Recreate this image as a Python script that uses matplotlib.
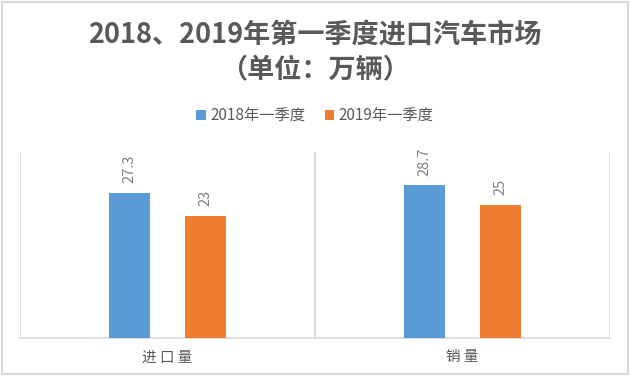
import matplotlib
matplotlib.use("Agg")
import matplotlib.pyplot as plt
from matplotlib.patches import Rectangle
import numpy as np

plt.rcParams['font.family'] = ['Noto Sans CJK SC', 'DejaVu Sans']

categories = ['进 口 量', '销 量']
series_names = ['2018年一季度', '2019年一季度']
values_2018 = [27.3, 28.7]
values_2019 = [23, 25]
colors = ['#5B9BD5', '#ED7D31']
title_line1 = '2018、2019年第一季度进口汽车市场'
title_line2 = '（单位：万辆）'

W, H = 630, 379
fig = plt.figure(figsize=(W / 100, H / 100), dpi=100)
fig.patch.set_facecolor('white')

# outer border
fig.add_artist(Rectangle((1.5 / W, 1 - 373.5 / H), 626.5 / W, 371.5 / H,
                         transform=fig.transFigure, fill=False,
                         edgecolor='#D9D9D9', linewidth=1.5))

ax = fig.add_axes([20 / W, (H - 338) / H, 590 / W, 186 / H])
x = np.arange(len(categories))
w = 0.136
off = 0.129
b1 = ax.bar(x - off, values_2018, w, color=colors[0], label=series_names[0], zorder=3)
b2 = ax.bar(x + off, values_2019, w, color=colors[1], label=series_names[1], zorder=3)

for bars, vals in ((b1, values_2018), (b2, values_2019)):
    for rect, v in zip(bars, vals):
        ax.annotate(f'{v:g}', (rect.get_x() + rect.get_width() / 2, rect.get_height()),
                    xytext=(0, 7), textcoords='offset points', rotation=90,
                    ha='center', va='bottom', fontsize=10.5, color='#808080')

ax.set_xlim(-0.5, len(categories) - 0.5)
ax.set_ylim(0, 35)
for xv in np.arange(-0.5, len(categories), 1.0):
    ax.axvline(xv, color='#D9D9D9', linewidth=1.2, zorder=1)
ax.set_yticks([])
ax.set_xticks(x)
ax.set_xticklabels(categories, fontsize=10.5, color='#595959')
ax.tick_params(axis='x', length=0, pad=9)
for s in ('top', 'left', 'right'):
    ax.spines[s].set_visible(False)
ax.spines['bottom'].set_color('#D9D9D9')
ax.spines['bottom'].set_linewidth(1.2)

fig.text(0.5, 1 - 35 / H, title_line1, ha='center', va='center', fontsize=19.5,
         fontweight='bold', color='#595959')
fig.text(0.5, 1 - 70 / H, title_line2, ha='center', va='center', fontsize=19.5,
         fontweight='bold', color='#595959')

leg = fig.legend(handles=[b1, b2], loc='center', bbox_to_anchor=(0.5, 1 - 116 / H),
                 ncol=2, frameon=False, fontsize=11, handlelength=0.6,
                 handleheight=0.6, handletextpad=0.3, columnspacing=1.3)
for t in leg.get_texts():
    t.set_color('#595959')

fig.savefig('out.png', dpi=100, facecolor='white')
